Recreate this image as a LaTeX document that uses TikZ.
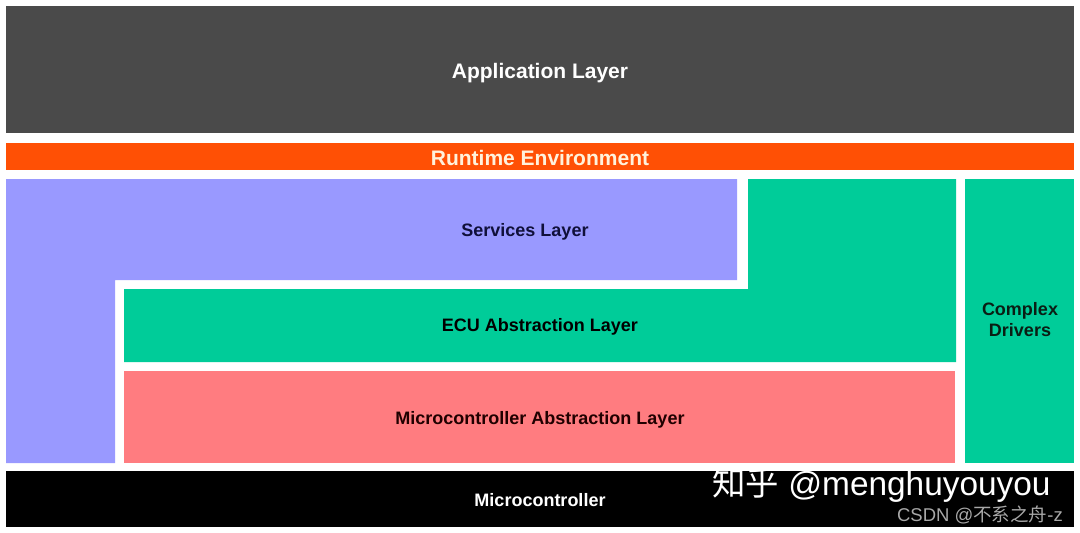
\documentclass[tikz,border=0pt]{standalone}
\usepackage{fontspec}
\setmainfont{Liberation Sans}
\newfontfamily\cjkfont{Noto Sans CJK SC}
\definecolor{appgray}{HTML}{4A4A4A}
\definecolor{rteorange}{HTML}{FF5005}
\definecolor{svcpurple}{HTML}{9999FF}
\definecolor{ecugreen}{HTML}{00CC99}
\definecolor{mcalred}{HTML}{FF7C80}
\definecolor{rtetext}{HTML}{FFF2DC}
\definecolor{marktext}{HTML}{A8A8A8}
\begin{document}
\begin{tikzpicture}
[x=1pt,y=-1pt,
  biglabel/.style={anchor=base,inner sep=0pt,font=\fontsize{21}{25}\selectfont\bfseries},%
  smalllabel/.style={anchor=base,inner sep=0pt,font=\fontsize{18}{21}\selectfont\bfseries}]
\useasboundingbox[fill=white] (0,0) rectangle (1080,533);
% layers
\fill[appgray] (6,6) rectangle (1074,133);
\fill[rteorange] (6,143) rectangle (1074,170);
\fill[svcpurple] (6,179) -- (737,179) -- (737,280) -- (115,280) -- (115,463) -- (6,463) -- cycle;
\fill[ecugreen] (124,289) -- (748,289) -- (748,179) -- (956,179) -- (956,362) -- (124,362) -- cycle;
\fill[mcalred] (124,371) rectangle (955,463);
\fill[ecugreen] (965,179) rectangle (1074,463);
\fill[black] (6,471) rectangle (1074,527);
% labels
\node (app) at (540,78) [biglabel,text=white] {Application Layer};
\node (rte) at (540,165) [biglabel,text=rtetext] {Runtime Environment};
\node (svc) at (525,236) [smalllabel,text={rgb,255:red,16;green,16;blue,58}] {Services Layer};
\node (ecu) at (540,331) [smalllabel,text=black] {ECU Abstraction Layer};
\node (mcal) at (540,424) [smalllabel,text={rgb,255:red,32;green,0;blue,0}] {Microcontroller Abstraction Layer};
\node (cdd) at (1020,320) [inner sep=0pt,align=center,font=\fontsize{18}{21}\selectfont\bfseries,text={rgb,255:red,10;green,30;blue,20}] {Complex\\Drivers};
\node (mc) at (540,506) [smalllabel,text=white] {Microcontroller};
% watermark
\node (zhihu) at (712,495) [anchor=base west,inner sep=0pt,text=white,font=\fontsize{33.4}{38}\selectfont] {{\cjkfont 知乎} @menghuyouyou};
\node (csdn) at (1063,521) [anchor=base east,inner sep=0pt,text=marktext,font=\fontsize{18.5}{22}\selectfont] {CSDN @{\cjkfont 不系之舟}-z};
\end{tikzpicture}
\end{document}
